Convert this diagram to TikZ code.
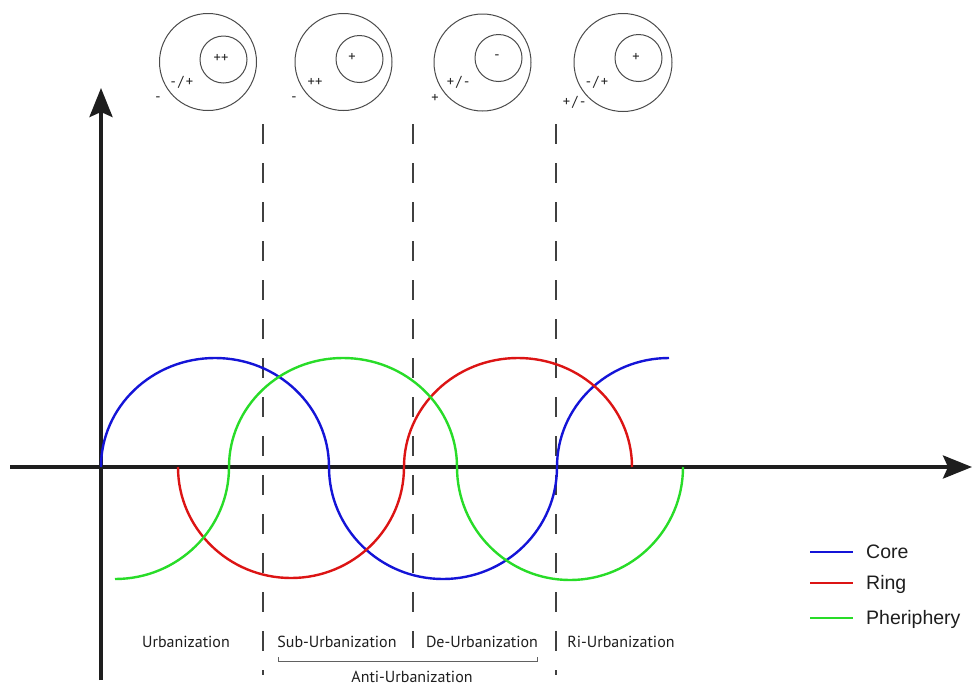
\documentclass[tikz,border=0pt]{standalone}
\usepackage{fontspec}
\setmainfont{PT Sans}
\newfontfamily\legfont{Liberation Sans}
\usetikzlibrary{arrows.meta}
\definecolor{cblue}{RGB}{20,20,215}
\definecolor{cred}{RGB}{220,20,20}
\definecolor{cgreen}{RGB}{40,220,40}
\definecolor{ink}{RGB}{30,30,30}
\tikzset{
  axisline/.style={line width=3.6pt, draw=ink, -{Stealth[length=29pt,width=23pt,inset=5pt]}},
  curve/.style={line width=2.4pt},
  phase/.style={line width=1.5pt, draw=ink!85, dash pattern=on 20pt off 19pt},
  ring/.style={line width=1pt, draw=ink!80},
  sign/.style={font=\fontsize{14.5}{16}\selectfont, text=ink, inner sep=0pt},
  stage/.style={font=\fontsize{16}{18}\selectfont, text=ink, inner sep=0pt},
  legtext/.style={font=\legfont\fontsize{19.5}{22}\selectfont, text=ink, inner sep=0pt, anchor=west},
  legline/.style={line width=2.2pt},
}
\begin{document}
\begin{tikzpicture}[x=1pt,y=-1pt]
\useasboundingbox (0,0) rectangle (972,686);
% axes
\coordinate (xs) at (10,467);
\coordinate (xe) at (972,467);
\coordinate (ys) at (101,680);
\coordinate (ye) at (101,88);
\draw[axisline] (xs) -- (xe);
\draw[axisline] (ys) -- (ye);
% phase boundaries
\coordinate (d1a) at (263,124); \coordinate (d1b) at (263,675);
\coordinate (d2a) at (413,124); \coordinate (d2b) at (413,648);
\coordinate (d3a) at (556,124); \coordinate (d3b) at (556,675);
\draw[phase] (d1a) -- (d1b);
\draw[phase] (d2a) -- (d2b);
\draw[phase] (d3a) -- (d3b);
% curves
\draw[curve, cblue] (101,467)
  arc[start angle=180, end angle=270, x radius=114, y radius=109]
  arc[start angle=270, end angle=360, x radius=114, y radius=109]
  arc[start angle=180, end angle=90, x radius=114, y radius=112]
  arc[start angle=90, end angle=0, x radius=114, y radius=112]
  arc[start angle=180, end angle=270, x radius=112, y radius=109];
\draw[curve, cred] (178,467)
  arc[start angle=180, end angle=90, x radius=113, y radius=111]
  arc[start angle=90, end angle=0, x radius=113, y radius=111]
  arc[start angle=180, end angle=270, x radius=114, y radius=109]
  arc[start angle=270, end angle=360, x radius=114, y radius=109];
\draw[curve, cgreen] (115,579)
  arc[start angle=90, end angle=0, x radius=114, y radius=112]
  arc[start angle=180, end angle=270, x radius=114, y radius=109]
  arc[start angle=270, end angle=360, x radius=114, y radius=109]
  arc[start angle=180, end angle=90, x radius=113, y radius=113]
  arc[start angle=90, end angle=0, x radius=113, y radius=113];
% circles
\draw[ring] (208,62) circle[radius=48.5];
\draw[ring] (223.5,59.5) circle[radius=23.5];
\node[sign] (c1in) at (221,58) {++};
\node[sign] (c1mid) at (182,82) {-\,/\,+};
\node[sign] (c1out) at (158,99) {-};
\draw[ring] (343.5,62) circle[radius=48.5];
\draw[ring] (359.5,59) circle[radius=23.5];
\node[sign] (c2in) at (352,57) {+};
\node[sign] (c2mid) at (315,82) {++};
\node[sign] (c2out) at (294,99) {-};
\draw[ring] (482.5,62.5) circle[radius=48.5];
\draw[ring] (498.5,58) circle[radius=23.5];
\node[sign] (c3in) at (497,57) {-};
\node[sign] (c3mid) at (458,82) {+\,/\,-};
\node[sign] (c3out) at (435,98) {+};
\draw[ring] (623,62.5) circle[radius=49];
\draw[ring] (638.5,58) circle[radius=23.5];
\node[sign] (c4in) at (636,57) {+};
\node[sign] (c4mid) at (597,82) {-\,/\,+};
\node[sign] (c4out) at (574,102) {+\,/\,-};
% stage labels
\node[stage] (urb) at (186,642) {Urbanization};
\node[stage] (sub) at (337,642) {Sub-Urbanization};
\node[stage] (de) at (482,642) {De-Urbanization};
\node[stage] (ri) at (621,642) {Ri-Urbanization};
\coordinate (bl) at (278,657); \coordinate (br) at (537,657);
\draw[line width=0.9pt, draw=ink!70] (bl) -- ++(0,4) -| (br);
\node[stage] (anti) at (412,677) {Anti-Urbanization};
% legend
\coordinate (l1a) at (810,552); \coordinate (l1b) at (853,552);
\coordinate (l2a) at (810,583); \coordinate (l2b) at (853,583);
\coordinate (l3a) at (810,618); \coordinate (l3b) at (853,618);
\draw[legline, cblue] (l1a) -- (l1b);
\draw[legline, cred] (l2a) -- (l2b);
\draw[legline, cgreen] (l3a) -- (l3b);
\node[legtext] (lcore) at (866,552) {Core};
\node[legtext] (lring) at (866,584) {Ring};
\node[legtext] (lper) at (866,619) {Pheriphery};
\end{tikzpicture}
\end{document}
